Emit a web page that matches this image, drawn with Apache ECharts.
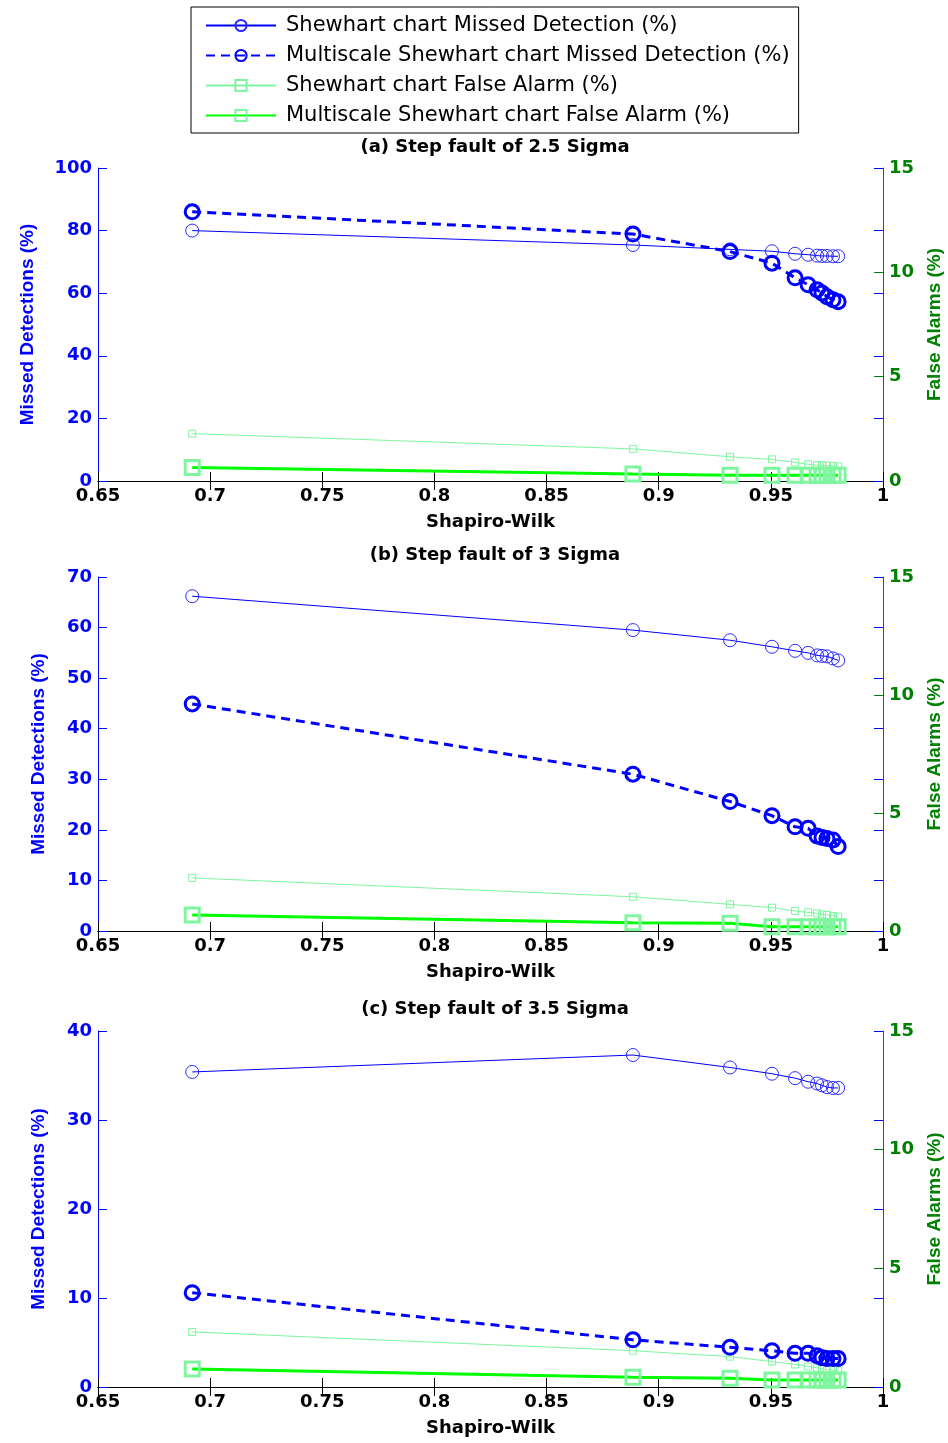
<!DOCTYPE html>
<html>
<head>
<meta charset="utf-8">
<script src="https://cdn.jsdelivr.net/npm/echarts@6/dist/echarts.min.js"></script>
<style>
html, body { margin: 0; padding: 0; background: #fff; }
#chart { width: 948px; height: 1443px; }
</style>
</head>
<body>
<div id="chart"></div>
<script>
// Shapiro-Wilk values (shared by all panels)
const xs = [0.692, 0.8885, 0.9318, 0.9505, 0.9608, 0.9666, 0.9706, 0.9728, 0.975, 0.9777, 0.980];

// (a) 2.5 sigma
const shMdA = [80.0, 75.4, 74.0, 73.4, 72.6, 72.3, 72.0, 71.9, 71.9, 71.8, 71.8];
const msMdA = [86.0, 78.9, 73.3, 69.6, 64.9, 62.7, 61.1, 60.1, 58.9, 57.9, 57.3];
const shFaA = [2.27, 1.54, 1.16, 1.04, 0.89, 0.80, 0.76, 0.75, 0.74, 0.72, 0.70];
const msFaA = [0.65, 0.33, 0.28, 0.28, 0.28, 0.28, 0.28, 0.28, 0.28, 0.28, 0.28];
// (b) 3 sigma
const shMdB = [66.2, 59.5, 57.5, 56.2, 55.4, 55.0, 54.5, 54.4, 54.3, 53.9, 53.5];
const msMdB = [44.9, 31.0, 25.6, 22.8, 20.6, 20.3, 18.8, 18.5, 18.3, 18.0, 16.7];
const shFaB = [2.25, 1.45, 1.13, 0.99, 0.85, 0.79, 0.75, 0.70, 0.68, 0.64, 0.61];
const msFaB = [0.68, 0.35, 0.33, 0.18, 0.18, 0.18, 0.18, 0.18, 0.18, 0.18, 0.18];
// (c) 3.5 sigma
const shMdC = [35.4, 37.3, 35.9, 35.2, 34.7, 34.3, 34.1, 33.9, 33.7, 33.6, 33.6];
const msMdC = [10.6, 5.3, 4.46, 4.08, 3.78, 3.78, 3.5, 3.3, 3.2, 3.2, 3.2];
const shFaC = [2.32, 1.53, 1.28, 1.07, 0.95, 0.86, 0.81, 0.76, 0.73, 0.71, 0.69];
const msFaC = [0.76, 0.41, 0.37, 0.30, 0.30, 0.30, 0.30, 0.30, 0.30, 0.30, 0.30];

const titles = ['(a) Step fault of 2.5 Sigma', '(b) Step fault of 3 Sigma', '(c) Step fault of 3.5 Sigma'];
const mdMax = [100, 70, 40];
const mdStep = [20, 10, 10];
const names = ['Shewhart chart Missed Detection (%)', 'Multiscale Shewhart chart Missed Detection (%)',
    'Shewhart chart False Alarm (%)', 'Multiscale Shewhart chart False Alarm (%)'];
const panels = [[shMdA, msMdA, shFaA, msFaA], [shMdB, msMdB, shFaB, msFaB], [shMdC, msMdC, shFaC, msFaC]];

const FONT = 'DejaVu Sans, Verdana, sans-serif';
const ARIAL = 'Liberation Sans, Arial, sans-serif';
const BLUE = '#0000ff', DGREEN = '#008000', LGREEN = '#80f5a0', GREEN = '#00ff00';
const grids = [
    { left: 98, right: 65, top: 168, height: 313, outerBoundsMode: 'none' },
    { left: 98, right: 65, top: 577, height: 354, outerBoundsMode: 'none' },
    { left: 98, right: 65, top: 1031, height: 356, outerBoundsMode: 'none' }
];
const nameGaps = [61, 50, 50];

const tick = c => ({ show: true, inside: true, length: 9, lineStyle: { color: c } });
const lbl = c => ({ color: c, fontFamily: FONT, fontWeight: 'bold', fontSize: 18, margin: 6 });

let xAxis = [], yAxis = [], series = [];
grids.forEach((g, i) => {
    xAxis.push({ gridIndex: i, type: 'value', min: 0.65, max: 1, interval: 0.05, position: 'bottom',
        name: 'Shapiro-Wilk', nameLocation: 'middle', nameGap: 32,
        nameTextStyle: { color: '#000', fontFamily: FONT, fontWeight: 'bold', fontSize: 18 },
        axisLine: { lineStyle: { color: '#000' } }, axisTick: tick('#000'),
        axisLabel: lbl('#000'), splitLine: { show: false } });
    xAxis.push({ gridIndex: i, type: 'value', min: 0.65, max: 1, interval: 0.05, position: 'top',
        axisLine: { lineStyle: { color: '#000' } }, axisTick: tick('#000'),
        axisLabel: { show: false }, splitLine: { show: false } });
    yAxis.push({ gridIndex: i, type: 'value', min: 0, max: mdMax[i], interval: mdStep[i], position: 'left',
        name: 'Missed Detections (%)', nameLocation: 'middle', nameGap: nameGaps[i], nameRotate: 90,
        nameTextStyle: { color: BLUE, fontFamily: ARIAL, fontWeight: 'bold', fontSize: 19 },
        axisLine: { show: true, lineStyle: { color: BLUE } }, axisTick: tick(BLUE),
        axisLabel: lbl(BLUE), splitLine: { show: false } });
    yAxis.push({ gridIndex: i, type: 'value', min: 0, max: 15, interval: 5, position: 'right',
        name: 'False Alarms (%)', nameLocation: 'middle', nameGap: 37, nameRotate: 90,
        nameTextStyle: { color: DGREEN, fontFamily: ARIAL, fontWeight: 'bold', fontSize: 19 },
        axisLine: { show: true, lineStyle: { color: DGREEN } }, axisTick: tick(DGREEN),
        axisLabel: lbl(DGREEN), splitLine: { show: false } });
    // mirrored blue ticks on the right edge
    yAxis.push({ gridIndex: i, type: 'value', min: 0, max: mdMax[i], interval: mdStep[i], position: 'right',
        axisLine: { show: false }, axisTick: tick(BLUE), axisLabel: { show: false }, splitLine: { show: false } });

    const d = panels[i];
    const xi = i * 2, yi = i * 3;
    const pts = arr => xs.map((x, k) => [x, arr[k]]);
    series.push(
        { name: names[0], type: 'line', xAxisIndex: xi, yAxisIndex: yi, data: pts(d[0]),
          symbol: 'circle', symbolSize: 13, lineStyle: { color: BLUE, width: 1 },
          itemStyle: { color: 'rgba(0,0,0,0)', borderColor: '#2a2aff', borderWidth: 1 }, z: 3 },
        { name: names[1], type: 'line', xAxisIndex: xi, yAxisIndex: yi, data: pts(d[1]),
          symbol: 'circle', symbolSize: 14, lineStyle: { color: BLUE, width: 3, type: [9, 6] },
          itemStyle: { color: 'rgba(0,0,0,0)', borderColor: BLUE, borderWidth: 3 }, z: 4 },
        { name: names[2], type: 'line', xAxisIndex: xi, yAxisIndex: yi + 1, data: pts(d[2]),
          symbol: 'rect', symbolSize: 7, lineStyle: { color: LGREEN, width: 1 },
          itemStyle: { color: 'rgba(0,0,0,0)', borderColor: LGREEN, borderWidth: 1 }, z: 3 },
        { name: names[3], type: 'line', xAxisIndex: xi, yAxisIndex: yi + 1, data: pts(d[3]),
          symbol: 'rect', symbolSize: 14, lineStyle: { color: GREEN, width: 3 },
          itemStyle: { color: 'rgba(0,0,0,0)', borderColor: LGREEN, borderWidth: 3 }, z: 4 }
    );
});

const chart = echarts.init(document.getElementById('chart'), null, { renderer: 'canvas' });
chart.setOption({
    animation: false,
    backgroundColor: '#fff',
    title: titles.map((t, i) => ({
        text: t, left: 490, top: [133, 541, 995][i], textAlign: 'center',
        textStyle: { fontFamily: FONT, fontWeight: 'bold', fontSize: 18, color: '#000' }
    })),
    legend: {
        data: names, orient: 'vertical', left: 191, top: 7, padding: [8, 9, 7, 14],
        itemWidth: 70, itemHeight: 14, itemGap: 9,
        borderColor: '#000', borderWidth: 1,
        textStyle: { fontFamily: FONT, fontSize: 21, color: '#000', padding: [0, 0, 0, 5] }
    },
    grid: grids,
    xAxis: xAxis,
    yAxis: yAxis,
    series: series
});
</script>
</body>
</html>
